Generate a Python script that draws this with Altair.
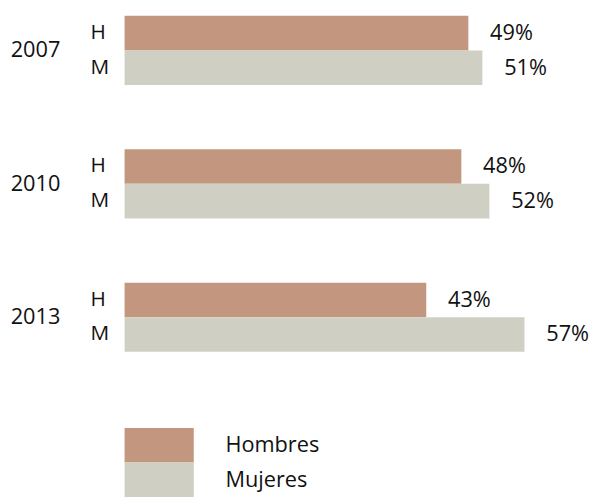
import altair as alt
import pandas as pd

years = ["2007", "2010", "2013"]
sex_codes = ["H", "M"]
series = ["Hombres", "Mujeres"]
hombres = [0.49, 0.48, 0.43]
mujeres = [0.51, 0.52, 0.57]
colors = ["#C3977F", "#D0CFC3"]

rows = []
for i, yr in enumerate(years):
    rows.append({"anio": yr, "sexo": sex_codes[0], "serie": series[0], "v": hombres[i]})
    rows.append({"anio": yr, "sexo": sex_codes[1], "serie": series[1], "v": mujeres[i]})
df = pd.DataFrame(rows)

FONT = "Open Sans"
INK = "#111111"

y_enc = alt.Y(
    "sexo:N", sort=sex_codes,
    scale=alt.Scale(paddingInner=0, paddingOuter=0),
    axis=alt.Axis(title=None, domain=False, ticks=False, labelAlign="left",
                  labelPadding=35, labelFontSize=21, labelFont=FONT, labelColor=INK),
)

bars = alt.Chart().mark_bar().encode(
    y=y_enc,
    x=alt.X("v:Q", scale=alt.Scale(domain=[0, 0.6]), axis=None),
    color=alt.Color(
        "serie:N",
        scale=alt.Scale(domain=series, range=colors),
        legend=alt.Legend(
            title=None, orient="none", legendX=17.5, legendY=417,
            symbolType="M-2,-1H2V1H-2Z", symbolSize=1225, symbolStrokeWidth=0,
            labelFont=FONT, labelFontSize=22, labelColor=INK, labelOffset=49.5,
            rowPadding=0, padding=0, symbolOffset=0,
        ),
    ),
)

text = alt.Chart().mark_text(align="left", dx=22, font=FONT, fontSize=22, color=INK).encode(
    y=alt.Y("sexo:N", sort=sex_codes),
    x=alt.X("v:Q"),
    text=alt.Text("v:Q", format=".0%"),
)

chart = alt.layer(bars, text, data=df).properties(width=426, height=70).facet(
    row=alt.Row(
        "anio:N", title=None, sort=years,
        header=alt.Header(labelAngle=0, labelOrient="left", labelAlign="left",
                          labelBaseline="middle", labelFontSize=22, labelFont=FONT,
                          labelColor=INK, labelPadding=30),
    ),
    spacing=65,
).properties(
    padding={"left": 2, "top": 5, "right": 0, "bottom": 0}
).configure_view(stroke=None)

chart.save("out.html", embed_options={"renderer": "svg", "actions": False})
